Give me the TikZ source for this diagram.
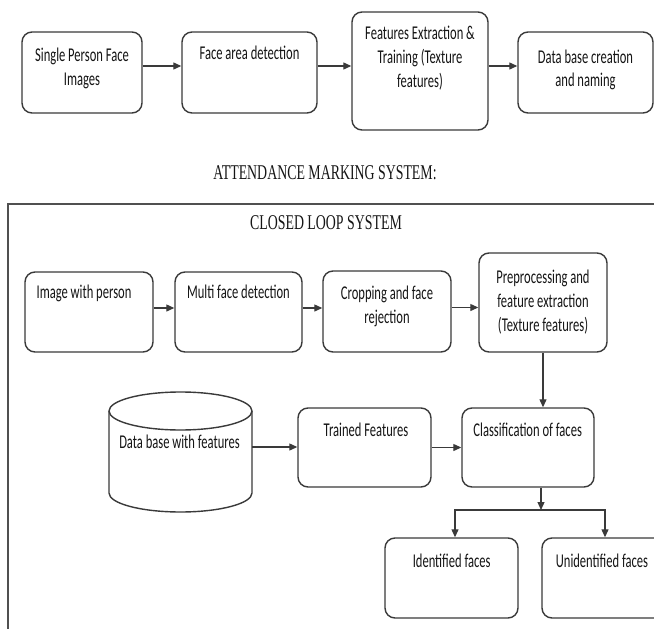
\documentclass[tikz,border=0pt]{standalone}
\usepackage{fontspec}
\newfontfamily\bodyf{Carlito}[FakeStretch=0.644]
\newfontfamily\headf{Liberation Serif}[FakeStretch=0.66]
\usetikzlibrary{arrows.meta}
\definecolor{ln}{HTML}{3A3A3A}
\definecolor{fr}{HTML}{505050}
\definecolor{tx}{HTML}{151515}
\newcommand\mlines[1]{\vtop{\halign{\hfil##\hfil\cr#1\crcr}}}
\begin{document}
\begin{tikzpicture}[x=1pt,y=-1pt,
  box/.style={draw=ln, line width=1.4pt, rounded corners=10pt, fill=white, inner sep=0pt},
  ghost/.style={inner sep=0pt},
  txt/.style={text=tx, font=\bodyf\fontsize{19.5}{24}\selectfont, anchor=base, inner sep=0pt},
  head/.style={text=tx, font=\headf\fontsize{21}{24}\selectfont, anchor=base, inner sep=0pt},
  arr/.style={draw=ln, line width=1.2pt, -{Triangle[length=8pt,width=7pt]}},
  frame/.style={draw=fr, line width=1.8pt},
  cyl/.style={draw=ln, line width=1.4pt, fill=white}]
\useasboundingbox (0,0) rectangle (654,629);
\clip (0,0) rectangle (654,629);

% ---------- top row ----------
\node[box, minimum width=120pt, minimum height=81pt] (b1) at (82,72.5) {};
\node[box, minimum width=135pt, minimum height=81pt] (b2) at (249.5,72.5) {};
\node[box, minimum width=136pt, minimum height=118pt] (b3) at (420,71) {};
\node[box, minimum width=135pt, minimum height=81pt] (b4) at (585.5,72.5) {};
\node[txt] (t1) at (82,61) {\mlines{Single Person Face\cr Images}};
\node[txt] (t2) at (249.5,59.5) {Face area detection};
\node[txt] (t3) at (420,39) {\mlines{Features Extraction \&\cr Training (Texture\cr features)}};
\node[txt] (t4) at (585.5,63) {\mlines{Data base creation\cr and naming}};
\draw[arr] ([yshift=6.5pt]b1.east) -- ([yshift=6.5pt]b1.east -| b2.west);
\draw[arr] ([yshift=6.5pt]b2.east) -- ([yshift=6.5pt]b2.east -| b3.west);
\draw[arr] ([yshift=6.5pt]b4.west -| b3.east) -- ([yshift=6.5pt]b4.west);

% ---------- headings ----------
\node[head] (h1) at (325,179) {ATTENDANCE MARKING SYSTEM:};
\draw[frame] (8,204) rectangle (690,660);
\node[head] (h2) at (326,229.5) {CLOSED LOOP SYSTEM};

% ---------- second row ----------
\node[box, minimum width=128pt, minimum height=80pt] (r1) at (89,312) {};
\node[box, minimum width=127pt, minimum height=80pt] (r2) at (238.5,312) {};
\node[box, minimum width=128pt, minimum height=81pt] (r3) at (387,311.5) {};
\node[box, minimum width=128pt, minimum height=99pt] (r4) at (543,302.5) {};
\node[txt] (s1) at (84,298.6) {Image with person};
\node[txt] (s2) at (238.5,298.6) {Multi face detection};
\node[txt] (s3) at (387,299.5) {\mlines{Cropping and face\cr rejection}};
\node[txt] (s4) at (543,283.3) {\mlines{Preprocessing and\cr feature extraction\cr (Texture features)}};
\draw[arr] ([yshift=4pt]r1.east) -- ([yshift=4pt]r1.east -| r2.west);
\draw[arr] ([yshift=4pt]r2.east) -- ([yshift=4pt]r2.east -| r3.west);
\draw[arr] ([yshift=4pt]r3.east) -- ([yshift=4pt]r3.east -| r4.west);

% ---------- third row ----------
\node[ghost, minimum width=143pt, minimum height=120pt] (db) at (180.5,452) {};
\draw[cyl] (109,411) -- (109,493) arc[start angle=180, end angle=360, x radius=71.5pt, y radius=19pt] -- (252,411);
\draw[cyl] (180.5,411) ellipse [x radius=71.5pt, y radius=19pt];
\node[txt] (d1) at (179.5,448.6) {Data base with features};
\node[box, minimum width=133pt, minimum height=79pt] (tf) at (364.5,447.5) {};
\node[box, minimum width=132pt, minimum height=79pt] (cl) at (528,447.5) {};
\node[txt] (d2) at (366,436.5) {Trained Features};
\node[txt] (d3) at (527.7,436.3) {Classification of faces};
\draw[arr] ([yshift=5pt]db.east) -- ([yshift=5pt]db.east -| tf.west);
\draw[arr] (tf.east) -- (tf.east -| cl.west);
\draw[arr] (r4.south) -- (r4.south |- cl.north);

% ---------- outputs ----------
\node[box, minimum width=133pt, minimum height=80pt] (id) at (451.5,578) {};
\node[box, minimum width=122pt, minimum height=80pt] (un) at (603,578) {};
\node[txt] (o1) at (451.7,567.6) {Identified faces};
\node[txt] (o2) at (602,567.6) {Unidentified faces};
\coordinate (j) at (541,510);
\draw[arr] (j |- cl.south) -- (j);
\draw[arr] (j) -| ([xshift=3.5pt]id.north);
\draw[arr] (j) -| ([xshift=2pt]un.north);
\end{tikzpicture}
\end{document}
